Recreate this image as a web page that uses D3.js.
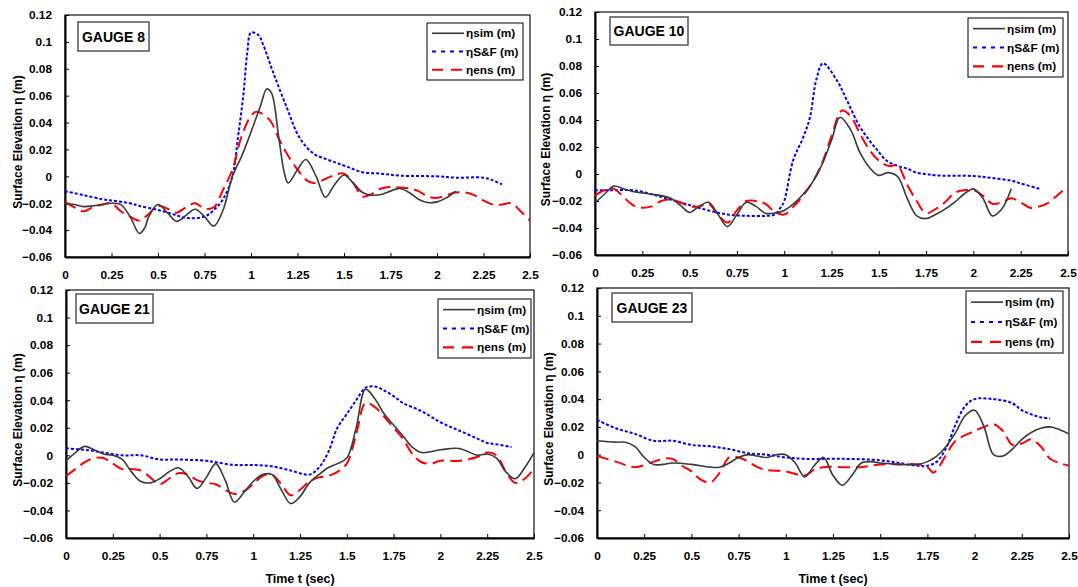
<!DOCTYPE html>
<html>
<head>
<meta charset="utf-8">
<script src="https://cdn.jsdelivr.net/npm/d3@7"></script>
<style>
  body { margin: 0; background: #fff; }
  svg text { font-family: "Liberation Sans", Arial, sans-serif; font-weight: bold; fill: #000; }
</style>
</head>
<body>
<svg id="chart" width="1078" height="587"></svg>
<script>
// ---- data: [t (sec), eta (m)] ----
var timeTicks = [0, 0.25, 0.5, 0.75, 1, 1.25, 1.5, 1.75, 2, 2.25, 2.5];
var etaTicks = [-0.06, -0.04, -0.02, 0, 0.02, 0.04, 0.06, 0.08, 0.1, 0.12];
var seriesNames = ["ηsim (m)", "ηS&F (m)", "ηens (m)"];
var gaugeNames = ["GAUGE 8", "GAUGE 10", "GAUGE 21", "GAUGE 23"];

// GAUGE 8
var g8Sim = [[0,-0.020],[0.05,-0.021],[0.1,-0.0225],[0.15,-0.022],[0.2,-0.021],[0.25,-0.020],[0.3,-0.021],[0.35,-0.030],[0.4,-0.0425],[0.43,-0.038],[0.45,-0.030],[0.5,-0.021],[0.55,-0.027],[0.6,-0.0335],[0.65,-0.029],[0.7,-0.0245],[0.75,-0.030],[0.8,-0.037],[0.85,-0.025],[0.9,0.0],[0.95,0.015],[1.0,0.033],[1.05,0.052],[1.085,0.065],[1.11,0.062],[1.15,0.028],[1.18,0.002],[1.2,-0.005],[1.25,0.005],[1.295,0.0125],[1.35,0.0],[1.4,-0.0155],[1.45,-0.006],[1.5,0.001],[1.55,-0.005],[1.6,-0.012],[1.65,-0.014],[1.7,-0.0135],[1.75,-0.011],[1.8,-0.009],[1.85,-0.012],[1.9,-0.017],[1.95,-0.0195],[2.0,-0.019],[2.05,-0.016],[2.1,-0.011]];
var g8SF = [[0,-0.011],[0.1,-0.014],[0.2,-0.017],[0.25,-0.018],[0.35,-0.020],[0.4,-0.022],[0.5,-0.025],[0.6,-0.029],[0.65,-0.031],[0.75,-0.030],[0.8,-0.025],[0.85,-0.017],[0.9,0.0],[0.93,0.029],[0.96,0.062],[0.98,0.092],[1.0,0.107],[1.04,0.105],[1.065,0.098],[1.12,0.077],[1.19,0.052],[1.26,0.029],[1.335,0.017],[1.4,0.013],[1.46,0.010],[1.52,0.007],[1.6,0.003],[1.7,0.002],[1.8,0.0005],[2.0,0.0],[2.1,-0.001],[2.25,-0.001],[2.3,-0.003],[2.35,-0.006]];
var g8Ens = [[0,-0.019],[0.05,-0.023],[0.1,-0.026],[0.15,-0.023],[0.2,-0.021],[0.25,-0.020],[0.3,-0.026],[0.35,-0.030],[0.4,-0.033],[0.45,-0.028],[0.5,-0.022],[0.55,-0.024],[0.6,-0.027],[0.65,-0.023],[0.7,-0.020],[0.75,-0.024],[0.8,-0.023],[0.85,-0.010],[0.9,0.005],[0.95,0.030],[1.0,0.045],[1.03,0.048],[1.1,0.042],[1.15,0.028],[1.19,0.0175],[1.25,0.005],[1.3,-0.003],[1.335,-0.005],[1.4,-0.002],[1.45,0.001],[1.5,0.002],[1.55,-0.005],[1.6,-0.015],[1.65,-0.013],[1.7,-0.009],[1.75,-0.008],[1.85,-0.009],[1.9,-0.011],[1.95,-0.015],[2.0,-0.016],[2.05,-0.014],[2.1,-0.012],[2.15,-0.012],[2.2,-0.014],[2.25,-0.018],[2.3,-0.021],[2.35,-0.021],[2.4,-0.020],[2.45,-0.026],[2.5,-0.033]];

// GAUGE 10
var g10Sim = [[0,-0.0215],[0.05,-0.015],[0.1,-0.009],[0.15,-0.011],[0.2,-0.013],[0.25,-0.014],[0.3,-0.015],[0.35,-0.016],[0.4,-0.018],[0.45,-0.023],[0.5,-0.0285],[0.55,-0.024],[0.6,-0.021],[0.65,-0.030],[0.7,-0.039],[0.75,-0.030],[0.8,-0.021],[0.85,-0.024],[0.9,-0.029],[0.95,-0.029],[1.0,-0.027],[1.05,-0.022],[1.1,-0.015],[1.15,-0.006],[1.2,0.007],[1.25,0.025],[1.295,0.042],[1.35,0.033],[1.4,0.016],[1.45,0.005],[1.5,-0.001],[1.55,0.001],[1.6,-0.002],[1.65,-0.018],[1.7,-0.031],[1.75,-0.033],[1.8,-0.030],[1.85,-0.026],[1.9,-0.021],[1.95,-0.015],[2.0,-0.011],[2.05,-0.018],[2.1,-0.031],[2.15,-0.026],[2.2,-0.011]];
var g10SF = [[0,-0.012],[0.1,-0.012],[0.2,-0.012],[0.3,-0.015],[0.4,-0.019],[0.5,-0.023],[0.6,-0.027],[0.7,-0.030],[0.8,-0.031],[0.9,-0.031],[0.95,-0.030],[0.98,-0.025],[1.0,-0.020],[1.047,0.010],[1.1,0.027],[1.136,0.042],[1.17,0.070],[1.205,0.082],[1.28,0.069],[1.33,0.055],[1.4,0.035],[1.45,0.025],[1.49,0.018],[1.54,0.010],[1.6,0.006],[1.65,0.004],[1.7,0.001],[1.75,0.0],[1.8,-0.001],[2.0,-0.0015],[2.1,-0.003],[2.2,-0.005],[2.25,-0.007],[2.35,-0.011]];
var g10Ens = [[0,-0.016],[0.05,-0.012],[0.1,-0.011],[0.15,-0.017],[0.2,-0.023],[0.25,-0.025],[0.3,-0.024],[0.35,-0.020],[0.4,-0.019],[0.45,-0.021],[0.5,-0.024],[0.55,-0.024],[0.6,-0.022],[0.65,-0.030],[0.7,-0.036],[0.75,-0.027],[0.8,-0.020],[0.85,-0.020],[0.9,-0.022],[0.95,-0.028],[1.0,-0.030],[1.05,-0.024],[1.1,-0.016],[1.15,-0.006],[1.2,0.008],[1.25,0.028],[1.305,0.047],[1.35,0.043],[1.4,0.030],[1.45,0.018],[1.5,0.010],[1.55,0.006],[1.6,0.006],[1.65,-0.008],[1.7,-0.020],[1.75,-0.029],[1.8,-0.026],[1.85,-0.021],[1.9,-0.014],[1.95,-0.012],[2.0,-0.012],[2.05,-0.016],[2.1,-0.022],[2.15,-0.021],[2.2,-0.018],[2.25,-0.021],[2.3,-0.025],[2.35,-0.024],[2.4,-0.021],[2.45,-0.015],[2.5,-0.009]];

// GAUGE 21
var g21Sim = [[0,-0.004],[0.05,0.002],[0.1,0.0065],[0.15,0.004],[0.2,0.001],[0.25,0.0],[0.3,-0.003],[0.35,-0.012],[0.4,-0.019],[0.45,-0.020],[0.5,-0.017],[0.55,-0.012],[0.6,-0.009],[0.65,-0.015],[0.7,-0.024],[0.75,-0.016],[0.8,-0.006],[0.85,-0.018],[0.9,-0.034],[0.95,-0.027],[1.0,-0.019],[1.05,-0.014],[1.1,-0.014],[1.15,-0.025],[1.2,-0.035],[1.25,-0.030],[1.3,-0.020],[1.35,-0.014],[1.4,-0.009],[1.45,-0.006],[1.5,-0.002],[1.55,0.020],[1.6,0.048],[1.65,0.041],[1.7,0.030],[1.75,0.022],[1.8,0.014],[1.85,0.006],[1.9,0.002],[2.0,0.004],[2.1,0.005],[2.2,0.0],[2.25,0.001],[2.3,-0.002],[2.35,-0.012],[2.4,-0.017],[2.45,-0.009],[2.5,0.002]];
var g21SF = [[0,0.005],[0.1,0.004],[0.2,0.002],[0.3,0.0],[0.4,0.0],[0.5,-0.003],[0.6,-0.003],[0.75,-0.004],[0.8,-0.005],[0.9,-0.007],[1.0,-0.007],[1.1,-0.008],[1.2,-0.011],[1.3,-0.014],[1.35,-0.009],[1.4,0.002],[1.45,0.020],[1.5,0.030],[1.55,0.040],[1.6,0.049],[1.65,0.050],[1.7,0.047],[1.75,0.043],[1.8,0.038],[1.9,0.032],[2.0,0.024],[2.1,0.018],[2.2,0.012],[2.25,0.009],[2.3,0.008],[2.38,0.006]];
var g21Ens = [[0,-0.015],[0.05,-0.010],[0.1,-0.005],[0.15,-0.002],[0.2,-0.002],[0.25,-0.006],[0.3,-0.010],[0.35,-0.010],[0.4,-0.011],[0.45,-0.016],[0.5,-0.021],[0.55,-0.017],[0.6,-0.013],[0.65,-0.014],[0.7,-0.018],[0.75,-0.020],[0.8,-0.021],[0.85,-0.025],[0.9,-0.028],[0.95,-0.026],[1.0,-0.021],[1.05,-0.015],[1.1,-0.014],[1.15,-0.021],[1.2,-0.029],[1.25,-0.025],[1.3,-0.019],[1.35,-0.016],[1.4,-0.015],[1.45,-0.012],[1.5,-0.006],[1.55,0.015],[1.6,0.038],[1.65,0.035],[1.7,0.028],[1.75,0.020],[1.8,0.012],[1.85,0.001],[1.9,-0.005],[1.95,-0.006],[2.0,-0.004],[2.1,-0.004],[2.2,-0.001],[2.25,0.002],[2.3,0.0],[2.35,-0.012],[2.4,-0.020],[2.45,-0.017],[2.5,-0.010]];

// GAUGE 23
var g23Sim = [[0,0.010],[0.1,0.009],[0.15,0.009],[0.2,0.006],[0.25,-0.002],[0.3,-0.007],[0.35,-0.007],[0.4,-0.006],[0.5,-0.007],[0.6,-0.009],[0.65,-0.009],[0.7,-0.006],[0.75,-0.002],[0.8,0.0],[0.85,-0.001],[0.9,-0.002],[0.95,0.0],[1.0,0.0],[1.05,-0.006],[1.1,-0.016],[1.15,-0.008],[1.2,-0.002],[1.25,-0.015],[1.3,-0.022],[1.35,-0.015],[1.4,-0.006],[1.45,-0.005],[1.5,-0.006],[1.6,-0.007],[1.7,-0.007],[1.75,-0.005],[1.8,-0.001],[1.85,0.006],[1.9,0.016],[1.95,0.028],[2.0,0.032],[2.05,0.020],[2.1,0.0],[2.15,-0.001],[2.2,0.004],[2.25,0.011],[2.3,0.016],[2.35,0.019],[2.4,0.020],[2.45,0.018],[2.5,0.015]];
var g23SF = [[0,0.025],[0.1,0.019],[0.2,0.015],[0.3,0.010],[0.4,0.010],[0.5,0.007],[0.6,0.006],[0.7,0.004],[0.8,0.001],[0.9,0.0],[1.0,-0.002],[1.1,-0.003],[1.3,-0.003],[1.5,-0.004],[1.6,-0.006],[1.7,-0.008],[1.75,-0.008],[1.8,-0.005],[1.85,0.005],[1.9,0.022],[1.95,0.035],[2.0,0.040],[2.1,0.040],[2.2,0.037],[2.25,0.032],[2.3,0.029],[2.35,0.027],[2.4,0.026]];
var g23Ens = [[0,-0.001],[0.1,-0.005],[0.2,-0.009],[0.3,-0.005],[0.35,-0.003],[0.4,-0.003],[0.45,-0.008],[0.5,-0.012],[0.55,-0.018],[0.6,-0.020],[0.65,-0.013],[0.7,-0.002],[0.75,-0.002],[0.8,-0.005],[0.85,-0.009],[0.9,-0.011],[1.0,-0.012],[1.1,-0.015],[1.15,-0.011],[1.2,-0.009],[1.3,-0.009],[1.4,-0.009],[1.5,-0.007],[1.6,-0.007],[1.7,-0.007],[1.75,-0.009],[1.78,-0.013],[1.8,-0.011],[1.85,0.0],[1.9,0.010],[2.0,0.017],[2.05,0.020],[2.1,0.022],[2.15,0.017],[2.2,0.007],[2.25,0.008],[2.3,0.011],[2.35,0.006],[2.4,-0.003],[2.45,-0.006],[2.5,-0.008]];

// ---- layout of the four panels ----
var panels = [
  { name: gaugeNames[0], series: [g8Sim, g8SF, g8Ens],  box: [65, 15, 530, 257],  gauge: [78, 22, 71, 29],  legend: [427, 23, 96, 57],  yTitleX: 18,  xTitle: false },
  { name: gaugeNames[1], series: [g10Sim, g10SF, g10Ens], box: [595, 12, 1068, 255], gauge: [610, 17, 78, 28], legend: [968, 18, 95, 59], yTitleX: 546, xTitle: false },
  { name: gaugeNames[2], series: [g21Sim, g21SF, g21Ens], box: [66, 290, 534, 538], gauge: [76, 294, 77, 29], legend: [438, 299, 93, 59], yTitleX: 18,  xTitle: true },
  { name: gaugeNames[3], series: [g23Sim, g23SF, g23Ens], box: [597, 288, 1069, 538], gauge: [612, 293, 80, 29], legend: [966, 291, 97, 62], yTitleX: 549, xTitle: true }
];

var styles = [
  { color: "#3a3a3a", width: 1.6, dash: null },
  { color: "#0000ff", width: 2,   dash: "3,2" },
  { color: "#ff0000", width: 2,   dash: "12,6" }
];
var legendDash = [null, "4,5", "11,8"];

var svg = d3.select("#chart");

function fmt(v) {
  return d3.format("~g")(+v.toFixed(2));
}

panels.forEach(function (p, pi) {
  var x = d3.scaleLinear().domain([0, 2.5]).range([p.box[0], p.box[2]]);
  var y = d3.scaleLinear().domain([-0.06, 0.12]).range([p.box[3], p.box[1]]);
  var g = svg.append("g");

  // frame
  g.append("rect")
    .attr("x", p.box[0]).attr("y", p.box[1])
    .attr("width", p.box[2] - p.box[0]).attr("height", p.box[3] - p.box[1])
    .attr("fill", "none").attr("stroke", "#222").attr("stroke-width", 1.3);

  // x axis (ticks point inward)
  var xAxis = g.append("g").attr("transform", "translate(0," + p.box[3] + ")")
    .call(d3.axisBottom(x).tickValues(timeTicks).tickSizeInner(-4).tickSizeOuter(0).tickPadding(14).tickFormat(fmt));
  xAxis.select(".domain").attr("stroke", "#000").attr("stroke-width", 2);
  xAxis.selectAll("text").attr("font-size", 11.8).attr("font-family", "Liberation Sans, Arial, sans-serif").attr("font-weight", "bold");

  var yAxis = g.append("g").attr("transform", "translate(" + p.box[0] + ",0)")
    .call(d3.axisLeft(y).tickValues(etaTicks).tickSizeInner(-4).tickSizeOuter(0).tickPadding(13).tickFormat(fmt));
  yAxis.select(".domain").attr("stroke", "#000").attr("stroke-width", 2);
  yAxis.selectAll("text").attr("font-size", 11.8).attr("font-family", "Liberation Sans, Arial, sans-serif").attr("font-weight", "bold");

  // clip for series
  var clipId = "clip" + pi;
  svg.append("clipPath").attr("id", clipId).append("rect")
    .attr("x", p.box[0]).attr("y", p.box[1])
    .attr("width", p.box[2] - p.box[0]).attr("height", p.box[3] - p.box[1]);

  var line = d3.line()
    .x(function (d) { return x(d[0]); })
    .y(function (d) { return y(d[1]); })
    .curve(d3.curveCatmullRom.alpha(0.5));

  var order = [1, 2, 0];
  order.forEach(function (si) {
    g.append("path")
      .attr("clip-path", "url(#" + clipId + ")")
      .attr("d", line(p.series[si]))
      .attr("fill", "none")
      .attr("stroke", styles[si].color)
      .attr("stroke-width", styles[si].width)
      .attr("stroke-dasharray", styles[si].dash);
  });

  // gauge label box
  g.append("rect")
    .attr("x", p.gauge[0]).attr("y", p.gauge[1])
    .attr("width", p.gauge[2]).attr("height", p.gauge[3])
    .attr("fill", "#fff").attr("stroke", "#555").attr("stroke-width", 1.5);
  g.append("text")
    .attr("x", p.gauge[0] + p.gauge[2] / 2).attr("y", p.gauge[1] + p.gauge[3] / 2 + 5)
    .attr("text-anchor", "middle").attr("font-size", 14)
    .text(p.name);

  // legend
  var L = p.legend;
  g.append("rect")
    .attr("x", L[0]).attr("y", L[1]).attr("width", L[2]).attr("height", L[3])
    .attr("fill", "#fff").attr("stroke", "#000").attr("stroke-width", 1);
  seriesNames.forEach(function (name, si) {
    var ry = L[1] + L[3] * (0.18 + 0.32 * si);
    g.append("line")
      .attr("x1", L[0] + 5).attr("x2", L[0] + 37)
      .attr("y1", ry).attr("y2", ry)
      .attr("stroke", styles[si].color)
      .attr("stroke-width", si === 0 ? 1.6 : 2.2)
      .attr("stroke-dasharray", legendDash[si]);
    g.append("text")
      .attr("x", L[0] + 39).attr("y", ry + 4)
      .attr("font-size", 11.8)
      .text(name);
  });

  // axis titles
  var cy = (p.box[1] + p.box[3]) / 2 + 6;
  g.append("text")
    .attr("transform", "translate(" + p.yTitleX + "," + cy + ") rotate(-90)")
    .attr("text-anchor", "middle").attr("dy", "0.35em").attr("font-size", 12)
    .text("Surface Elevation η (m)");
  if (p.xTitle) {
    g.append("text")
      .attr("x", (p.box[0] + p.box[2]) / 2).attr("y", 583)
      .attr("text-anchor", "middle").attr("font-size", 12.5)
      .text("Time t (sec)");
  }
});
</script>
</body>
</html>
